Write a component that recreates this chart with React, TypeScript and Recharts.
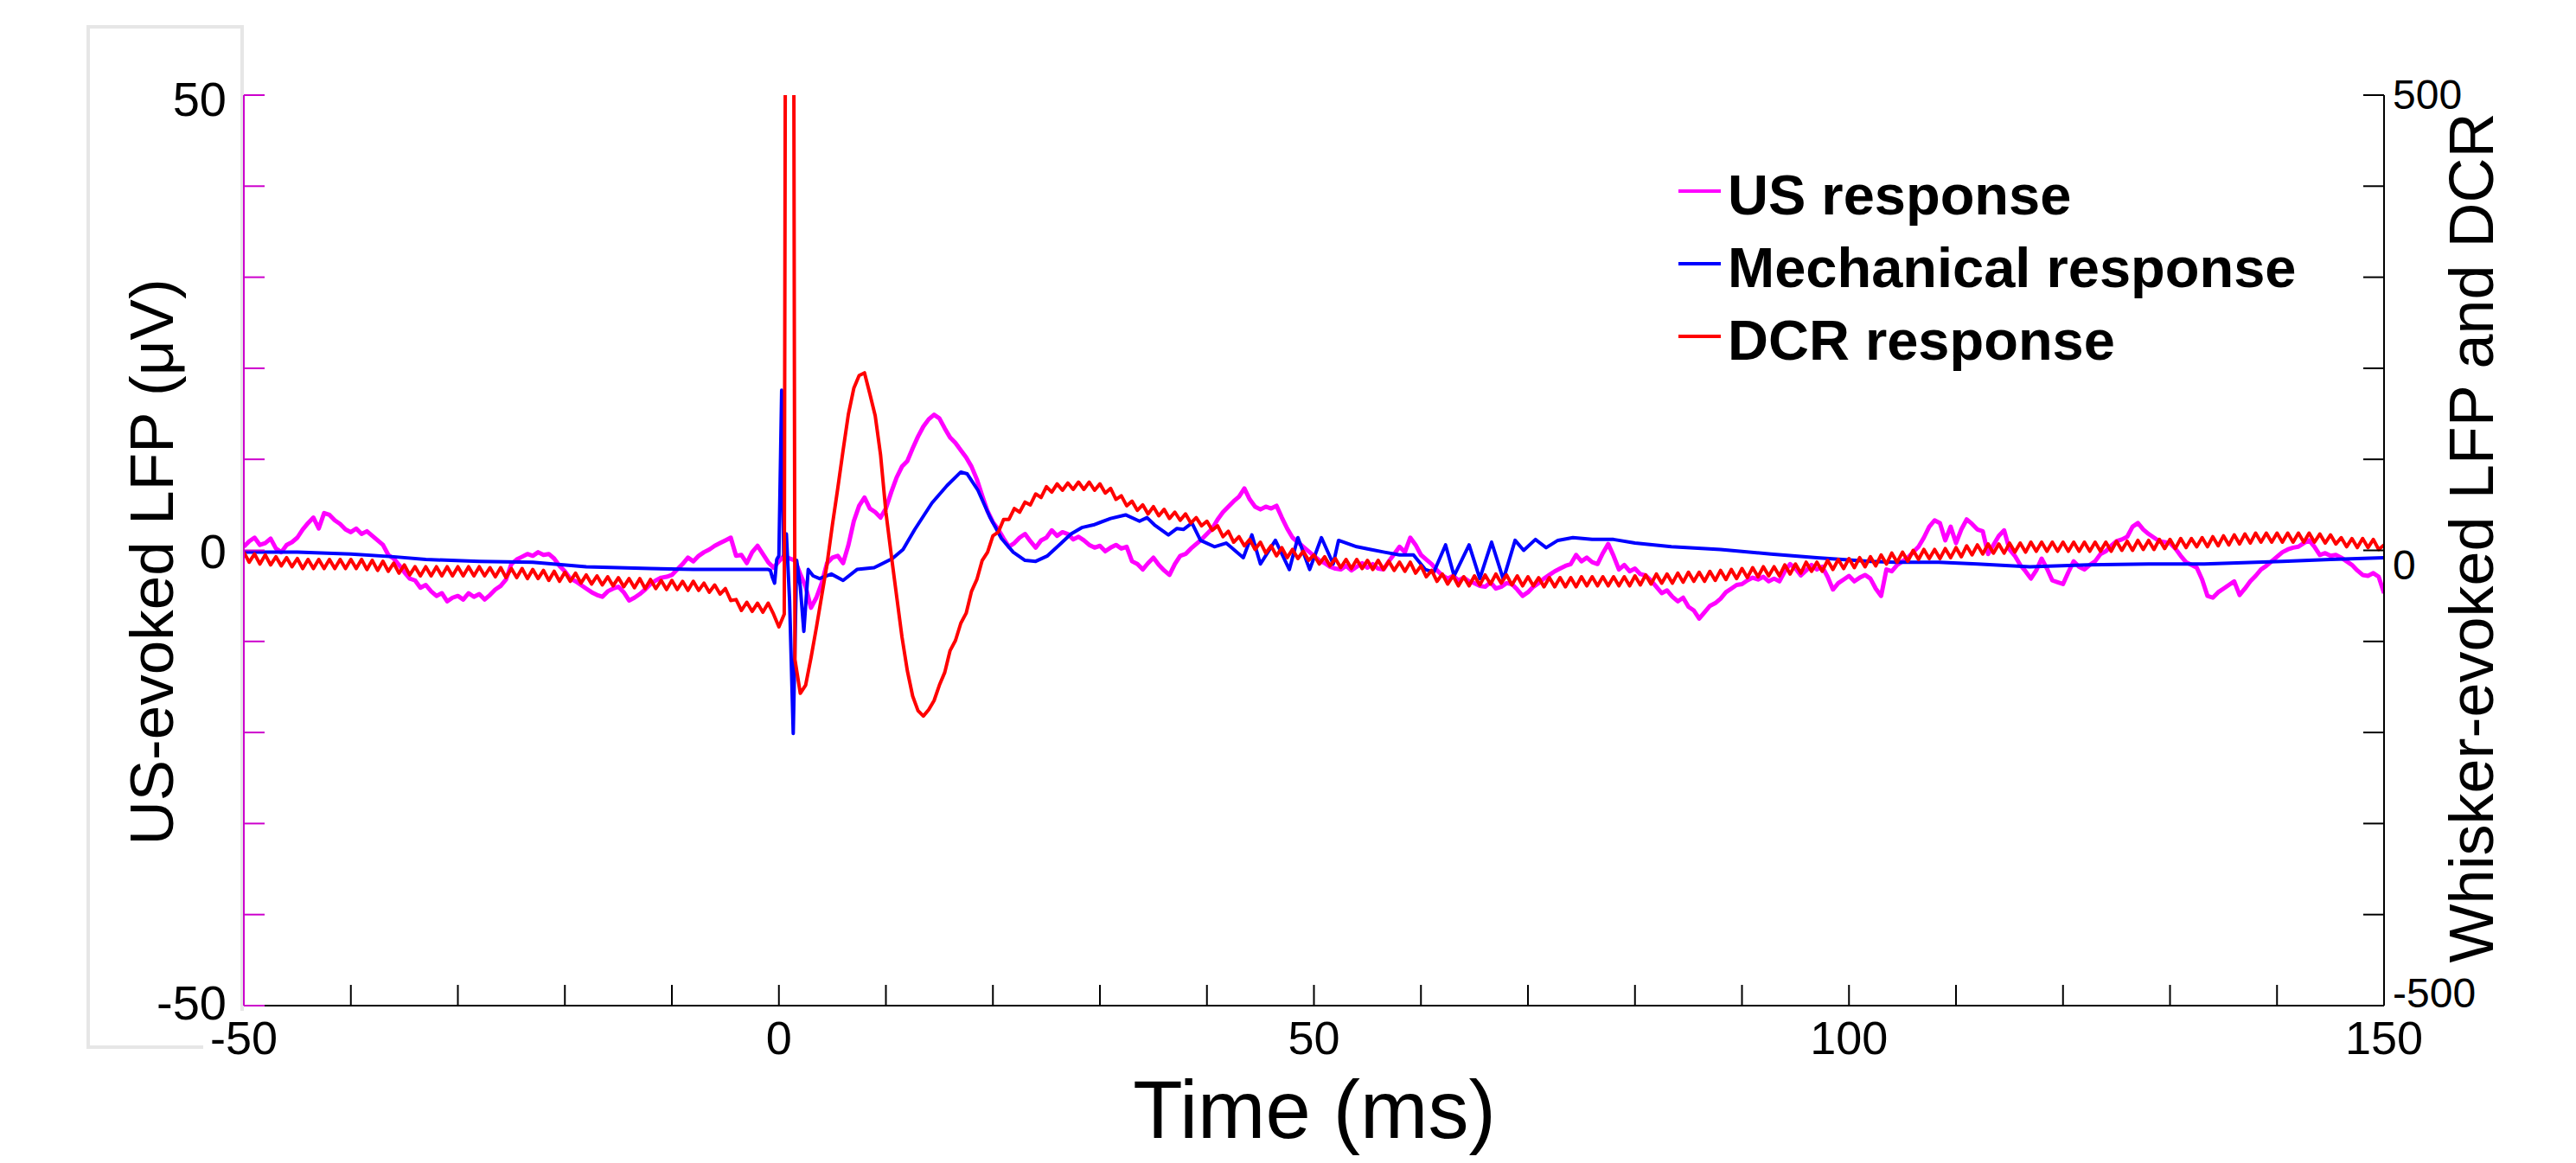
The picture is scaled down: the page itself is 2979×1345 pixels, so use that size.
import React from "react";
import { LineChart, Line, XAxis, YAxis } from "recharts";

const FONT = "'Liberation Sans', Arial, Helvetica, sans-serif";

// Uniform sampling grid for the US and DCR traces (ms)
const T_START = -50;
const T_STEP = 0.5;

// US response (left axis, µV), one value every 0.5 ms from -50 to 150 ms
const usValues = [
  0.4, 1.0, 1.4, 0.6, 0.8, 1.3, 0.2, -0.2, 0.6, 0.9, 1.4, 2.3, 3.0, 3.6, 2.4, 4.1, 3.9, 3.3, 2.9, 2.3,
  2.0, 2.4, 1.8, 2.1, 1.6, 1.1, 0.6, -0.5, -0.9, -1.6, -2.4, -3.1, -3.3, -4.1, -3.8, -4.5, -5.0, -4.7, -5.6, -5.2,
  -5.0, -5.4, -4.7, -5.1, -4.8, -5.4, -4.9, -4.3, -3.9, -3.2, -1.5, -1.0, -0.7, -0.4, -0.6, -0.2, -0.5, -0.4, -0.9, -1.7,
  -2.3, -3.1, -3.4, -3.8, -4.2, -4.6, -4.9, -5.1, -4.5, -4.2, -4.0, -4.6, -5.5, -5.2, -4.8, -4.3, -3.7, -3.3, -3.0, -2.9,
  -2.7, -2.1, -1.5, -0.8, -1.2, -0.6, -0.2, 0.1, 0.5, 0.8, 1.1, 1.4, -0.6, -0.5, -1.4, -0.2, 0.5, -0.4, -1.3, -1.9,
  -1.2, -0.6, -0.9, -1.1, -2.6, -4.0, -6.3, -5.2, -3.6, -1.4, -0.8, -0.6, -1.4, 0.6, 3.2, 4.9, 5.8, 4.6, 4.2, 3.6,
  4.6, 6.4, 8.0, 9.2, 9.8, 11.2, 12.5, 13.6, 14.4, 14.9, 14.5, 13.4, 12.4, 11.8, 11.0, 10.2, 9.2, 7.8, 6.0, 4.3,
  3.1, 2.3, 1.3, 0.4, 0.8, 1.4, 1.8, 1.0, 0.3, 1.1, 1.4, 2.2, 1.6, 2.0, 1.8, 1.2, 1.5, 1.1, 0.6, 0.3,
  0.5, -0.1, 0.3, 0.6, 0.2, 0.4, -1.2, -1.5, -2.1, -1.4, -0.8, -1.6, -2.2, -2.7, -1.5, -0.6, -0.4, 0.2, 0.7, 1.2,
  1.8, 2.4, 3.4, 4.2, 4.8, 5.4, 5.9, 6.8, 5.6, 4.8, 4.5, 4.8, 4.6, 4.9, 3.6, 2.4, 1.4, 0.9, 0.4, -0.1,
  -0.6, -1.1, -1.4, -1.8, -2.0, -2.1, -1.7, -2.2, -1.8, -1.4, -1.9, -1.5, -2.0, -2.1, -1.2, -0.4, 0.4, -0.2, 1.4, 0.6,
  -0.5, -1.0, -1.5, -2.2, -2.75, -3.1, -2.8, -3.3, -3.0, -3.4, -3.6, -3.9, -4.0, -3.5, -4.2, -4.0, -3.6, -3.7, -4.3, -5.0,
  -4.6, -4.0, -3.6, -3.1, -2.7, -2.3, -2.0, -1.7, -1.5, -0.5, -1.2, -0.8, -1.3, -1.5, -0.3, 0.7, -0.6, -2.1, -1.6, -2.3,
  -2.0, -2.6, -2.75, -3.3, -4.0, -4.7, -4.4, -5.1, -5.6, -5.2, -6.2, -6.6, -7.5, -6.8, -6.1, -5.8, -5.3, -4.6, -4.2, -3.8,
  -3.7, -3.3, -3.0, -3.2, -2.9, -3.4, -3.1, -3.4, -2.3, -1.5, -2.0, -2.75, -2.2, -1.6, -2.1, -1.8, -2.9, -4.3, -3.6, -3.2,
  -2.8, -3.4, -3.0, -2.7, -3.1, -4.2, -5.0, -2.1, -2.3, -1.6, -1.2, -0.8, -0.2, 0.4, 1.4, 2.6, 3.3, 3.0, 1.1, 2.6,
  0.8, 2.3, 3.4, 2.9, 2.3, 2.1, -0.4, 0.6, 1.6, 2.2, 0.1, -0.6, -1.6, -2.3, -3.1, -2.2, -0.9, -2.0, -3.3, -3.5,
  -3.7, -2.4, -1.2, -1.8, -2.1, -1.6, -1.2, -0.4, -0.1, 0.5, 1.0, 1.2, 1.5, 2.6, 3.0, 2.3, 1.8, 1.4, 1.0, 0.9,
  0.8, 0.2, -0.6, -1.3, -1.6, -1.9, -3.2, -5.0, -5.2, -4.6, -4.2, -3.8, -3.4, -4.9, -4.2, -3.4, -2.8, -2.1, -1.7, -1.2,
  -0.7, -0.2, 0.1, 0.3, 0.4, 0.8, 1.1, 0.4, -0.5, -0.3, -0.6, -0.5, -0.8, -1.2, -1.6, -2.2, -2.7, -2.8, -2.5, -2.9,
  -4.7,
];

// DCR response (right axis), one value every 0.5 ms from -50 to 150 ms
const dcrValues = [
  -2, -13, -4, -15, -5, -16, -7, -17, -8, -18, -9, -20, -10, -20, -10, -20, -10, -20, -10, -20,
  -10, -20, -10, -21, -11, -22, -12, -23, -14, -25, -16, -27, -18, -28, -18, -28, -18, -28, -18, -28,
  -18, -28, -18, -28, -18, -28, -19, -29, -19, -30, -20, -30, -20, -31, -21, -31, -22, -33, -23, -34,
  -24, -34, -25, -36, -27, -37, -28, -38, -29, -39, -30, -40, -31, -41, -31, -42, -32, -42, -33, -43,
  -33, -43, -34, -44, -34, -44, -36, -46, -38, -48, -42, -55, -54, -66, -57, -67, -58, -68, -58, -70,
  -84, -70, 3000, -120, -157, -148, -118, -85, -50, -15, 28, 68, 110, 150, 178, 192, 195, 172, 148, 105,
  42, -5, -50, -95, -132, -160, -176, -182, -175, -165, -148, -134, -110, -99, -80, -69, -45, -32, -11, -2,
  16, 20, 34, 34, 46, 42, 53, 50, 62, 58, 70, 64, 73, 66, 74, 67, 75, 67, 75, 66,
  73, 63, 68, 56, 60, 49, 54, 44, 50, 40, 48, 38, 45, 35, 42, 33, 40, 30, 36, 27,
  32, 22, 27, 15, 21, 9, 15, 5, 12, 1, 9, -3, 5, -6, 3, -8, 1, -9, -1, -11,
  -5, -15, -7, -17, -9, -19, -10, -20, -10, -20, -11, -21, -11, -21, -12, -22, -13, -23, -13, -25,
  -17, -29, -22, -34, -26, -37, -28, -39, -29, -39, -28, -38, -27, -37, -26, -36, -27, -38, -28, -39,
  -29, -39, -30, -40, -30, -40, -30, -40, -30, -40, -29, -39, -29, -39, -29, -39, -29, -39, -29, -39,
  -28, -38, -27, -37, -26, -36, -26, -36, -25, -35, -24, -34, -24, -34, -23, -33, -22, -32, -21, -31,
  -20, -30, -19, -29, -18, -28, -18, -28, -16, -26, -15, -25, -13, -23, -13, -23, -11, -21, -10, -20,
  -9, -19, -8, -18, -7, -17, -5, -15, -3, -13, -2, -12, 0, -10, 1, -9, 1, -9, 2, -8,
  3, -7, 5, -5, 6, -4, 7, -3, 7, -3, 8, -2, 8, -2, 9, -1, 9, -1, 9, -1,
  9, -1, 9, -1, 9, -1, 9, -1, 9, -1, 10, 0, 10, 0, 11, 1, 11, 1, 12, 2,
  12, 2, 13, 3, 13, 4, 14, 4, 15, 5, 16, 6, 17, 7, 18, 8, 19, 9, 19, 9,
  19, 9, 19, 9, 19, 9, 19, 9, 18, 8, 17, 7, 14, 4, 13, 3, 13, 3, 12, 1,
  6,
];

// Mechanical response (right axis): sample times (ms) and values
const mechTimes = [
  -50, -45, -40, -36, -33, -28, -23, -18, -12, -8, -4, -1, -0.8, -0.6, -0.4, -0.2, 0, 0.26, 0.45, 0.7,
  1.0, 1.34, 1.66, 2.0, 2.33, 2.74, 3.2, 3.8, 4.9, 6.0, 7.3, 8.9, 10.6, 11.6, 12.7, 14.3, 15.7, 17.0, 17.6, 18.6,
  19.7, 20.8, 21.9, 23.0, 24.0, 25.1, 26.2, 27.3, 28.3, 29.4, 31.0, 32.4, 33.7, 34.4, 35.1, 36.4, 37.2, 37.8, 38.6, 39.4,
  40.7, 41.8, 43.4, 44.2, 45.0, 46.4, 47.7, 48.5, 49.6, 50.7, 51.8, 52.3, 54.0, 55.3, 56.6, 58.0, 59.3, 60.4, 61.2, 62.3,
  63.1, 64.5, 65.5, 66.6, 67.7, 68.8, 69.6, 70.7, 71.7, 72.8, 74.2, 76, 78, 80, 83.4, 88, 92.7, 97, 102, 104.3,
  108.4, 112, 116.9, 122.3, 128, 133.2, 140.5, 145, 150,
];
const mechValues = [
  -2, -2, -4, -7, -10, -12, -13, -18, -20, -21, -21, -21, -22, -30, -36, -10, -6, 176, -6, 18,
  -55, -201, -11, -40, -89, -21, -28, -31, -26, -33, -21, -19, -9, 1, 23, 52, 71, 86, 84, 66,
  37, 13, -2, -11, -12, -6, 6, 18, 25, 28, 35, 39, 32, 36, 28, 17, 24, 23, 30, 11,
  4, 8, -8, 17, -15, 11, -21, 14, -21, 14, -15, 11, 4, 1, -2, -5, -5, -21, -24, 6,
  -28, 6, -31, 9, -32, 11, 0, 12, 3, 11, 14, 12, 12, 8, 4, 1, -4, -8, -12, -13,
  -13, -15, -18, -16, -15, -15, -12, -10, -8,
];

const xTicks = [-50, -40, -30, -20, -10, 0, 10, 20, 30, 40, 50, 60, 70, 80, 90, 100, 110, 120, 130, 140, 150];
const xLabels = [-50, 0, 50, 100, 150];
const leftTicks = [-50, -40, -30, -20, -10, 0, 10, 20, 30, 40, 50];
const leftLabels = [-50, 0, 50];
const rightTicks = [-500, -400, -300, -200, -100, 0, 100, 200, 300, 400, 500];
const rightLabels = [-500, 0, 500];

const legendItems = [
  { name: "US response", color: "#ff00ff" },
  { name: "Mechanical response", color: "#0000ff" },
  { name: "DCR response", color: "#ff0000" },
];

const usData = usValues.map((v, i) => ({ t: T_START + i * T_STEP, us: v }));
const dcrData = dcrValues.map((v, i) => ({ t: T_START + i * T_STEP, dcr: v }));
const mechData = mechTimes.map((t, i) => ({ t, mech: mechValues[i] }));

const W = 2963;
const H = 1329;
const LEFT_COLOR = "#cc00cc";
const TICK_LEN = 24;

function XTick(props: any) {
  const { x, y, payload } = props;
  const v = payload.value;
  const edge = v === -50 || v === 150;
  return (
    <g>
      {!edge && <line x1={x} x2={x} y1={y} y2={y - TICK_LEN} stroke="#000" strokeWidth={2} />}
      {xLabels.includes(v) && (
        <text x={x} y={y + 56} textAnchor="middle" fontSize={54} fill="#000" fontFamily={FONT}>
          {v}
        </text>
      )}
    </g>
  );
}

function LeftTick(props: any) {
  const { x, y, payload } = props;
  const v = payload.value;
  const dy = v === 50 ? 24 : v === 0 ? 20 : 16;
  return (
    <g>
      <line x1={x} x2={x + TICK_LEN} y1={y} y2={y} stroke={LEFT_COLOR} strokeWidth={2} />
      {leftLabels.includes(v) && (
        <text x={x - 20} y={y + dy} textAnchor="end" fontSize={56} fill="#000" fontFamily={FONT}>
          {v}
        </text>
      )}
    </g>
  );
}

function RightTick(props: any) {
  const { x, y, payload } = props;
  const v = payload.value;
  const dy = v === 500 ? 16 : v === 0 ? 33 : 2;
  return (
    <g>
      <line x1={x - TICK_LEN} x2={x} y1={y} y2={y} stroke="#000" strokeWidth={2} />
      {rightLabels.includes(v) && (
        <text x={x + 10} y={y + dy} textAnchor="start" fontSize={48} fill="#000" fontFamily={FONT}>
          {v}
        </text>
      )}
    </g>
  );
}

export default function App() {
  return (
    <div style={{ position: "relative", width: W, height: H, fontFamily: FONT, background: "#fff" }}>
      <svg width={W} height={H} style={{ position: "absolute", left: 0, top: 0 }}>
        <polyline
          points="227,1203 94,1203 94,23 272,23 272,1161"
          fill="none"
          stroke="#e6e6e6"
          strokeWidth={4}
        />
      </svg>
      <div style={{ position: "absolute", left: 0, top: 0 }}>
        <LineChart width={W} height={H} margin={{ top: 102, right: 64, bottom: 74, left: 100 }}>
          <XAxis
            dataKey="t"
            type="number"
            domain={[-50, 150]}
            ticks={xTicks}
            interval={0}
            allowDataOverflow
            height={100}
            tickSize={0}
            tickMargin={0}
            tickLine={false}
            axisLine={{ stroke: "#000", strokeWidth: 2 }}
            tick={XTick}
          />
          <YAxis
            yAxisId="right"
            orientation="right"
            type="number"
            domain={[-500, 500]}
            ticks={rightTicks}
            interval={0}
            allowDataOverflow
            width={150}
            tickSize={0}
            tickMargin={0}
            tickLine={false}
            axisLine={{ stroke: "#000", strokeWidth: 2 }}
            tick={RightTick}
          />
          <YAxis
            yAxisId="left"
            orientation="left"
            type="number"
            domain={[-50, 50]}
            ticks={leftTicks}
            interval={0}
            allowDataOverflow
            width={174}
            tickSize={0}
            tickMargin={0}
            tickLine={false}
            axisLine={{ stroke: LEFT_COLOR, strokeWidth: 2 }}
            tick={LeftTick}
          />
          <Line
            yAxisId="left"
            data={usData}
            dataKey="us"
            type="linear"
            stroke="#ff00ff"
            strokeWidth={5}
            strokeLinejoin="round"
            dot={false}
            activeDot={false}
            isAnimationActive={false}
          />
          <Line
            yAxisId="right"
            data={mechData}
            dataKey="mech"
            type="linear"
            stroke="#0000ff"
            strokeWidth={4}
            strokeLinejoin="round"
            dot={false}
            activeDot={false}
            isAnimationActive={false}
          />
          <Line
            yAxisId="right"
            data={dcrData}
            dataKey="dcr"
            type="linear"
            stroke="#ff0000"
            strokeWidth={4}
            strokeLinejoin="round"
            dot={false}
            activeDot={false}
            isAnimationActive={false}
          />
        </LineChart>
      </div>
      <svg width={W} height={H} style={{ position: "absolute", left: 0, top: 0, pointerEvents: "none" }}>
        <text x={1512} y={1308} textAnchor="middle" fontSize={94} fill="#000" fontFamily={FONT}>
          Time (ms)
        </text>
        <text
          x={192}
          y={642}
          transform="rotate(-90, 192, 642)"
          textAnchor="middle"
          fontSize={71}
          fill="#000"
          fontFamily={FONT}
        >
          US-evoked LFP (μV)
        </text>
        <text
          x={2875}
          y={614}
          transform="rotate(-90, 2875, 614)"
          textAnchor="middle"
          fontSize={72}
          fill="#000"
          fontFamily={FONT}
        >
          Whisker-evoked LFP and DCR
        </text>
        {legendItems.map((item, i) => (
          <g key={item.name}>
            <line x1={1933} x2={1982} y1={213 + i * 84} y2={213 + i * 84} stroke={item.color} strokeWidth={4} />
            <text x={1990} y={240 + i * 84} fontSize={65} fontWeight="bold" fill="#000" fontFamily={FONT}>
              {item.name}
            </text>
          </g>
        ))}
      </svg>
    </div>
  );
}
